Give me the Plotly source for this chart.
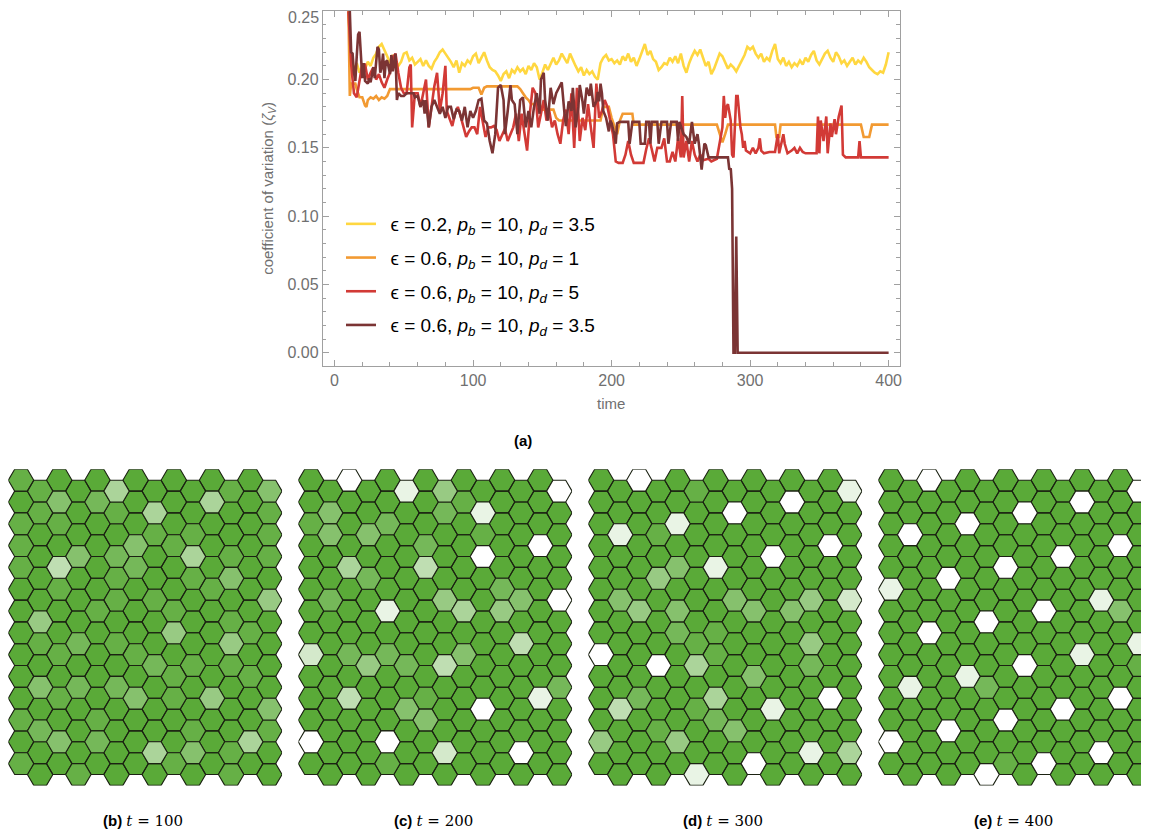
import plotly.graph_objects as go

W, H = 1149, 836
OX, OY = 8, 8  # page body margin compensation

# ---------------- line chart data ----------------
t_yellow = [10,11,12,14,16,18,20,22,24,26,28,30,32,34,36,38,40,42,44,46,48,50,52,54,56,58,60,62,64,66,68,70,72,74,76,78,80,82,84,86,88,90,92,94,96,98,100,102,104,106,108,110,112,114,116,118,120,122,124,126,128,130,132,134,136,138,140,142,144,146,148,150,152,154,156,158,160,162,164,166,168,170,172,174,176,178,180,182,184,186,188,190,192,194,196,198,200,202,204,206,208,210,212,214,216,218,220,222,224,226,228,230,232,234,236,238,240,242,244,246,248,250,252,254,256,258,260,262,264,266,268,270,272,274,276,278,280,282,284,286,288,290,292,294,296,298,300,302,304,306,308,310,312,314,316,318,320,322,324,326,328,330,332,334,336,338,340,342,344,346,348,350,352,354,356,358,360,362,364,366,368,370,372,374,376,378,380,382,384,386,388,390,392,394,396,398,400]
v_yellow = [0.25,0.232,0.215,0.207,0.212,0.205,0.21,0.208,0.213,0.21,0.216,0.219,0.224,0.226,0.222,0.217,0.212,0.218,0.213,0.21,0.213,0.219,0.22,0.214,0.216,0.211,0.213,0.215,0.21,0.214,0.21,0.208,0.213,0.216,0.22,0.222,0.219,0.216,0.213,0.209,0.214,0.205,0.212,0.21,0.214,0.212,0.217,0.219,0.212,0.216,0.22,0.214,0.209,0.207,0.206,0.203,0.199,0.204,0.206,0.201,0.207,0.205,0.209,0.206,0.208,0.204,0.21,0.207,0.212,0.209,0.2,0.205,0.211,0.207,0.212,0.216,0.211,0.214,0.219,0.215,0.212,0.219,0.214,0.21,0.206,0.209,0.203,0.207,0.204,0.206,0.202,0.2,0.212,0.216,0.218,0.214,0.215,0.212,0.214,0.211,0.217,0.214,0.219,0.213,0.216,0.21,0.215,0.22,0.226,0.218,0.221,0.215,0.213,0.207,0.209,0.212,0.211,0.216,0.213,0.217,0.212,0.219,0.21,0.205,0.212,0.217,0.221,0.218,0.222,0.216,0.21,0.213,0.204,0.208,0.213,0.219,0.217,0.212,0.208,0.211,0.209,0.206,0.21,0.213,0.218,0.224,0.222,0.224,0.219,0.216,0.219,0.213,0.216,0.214,0.221,0.226,0.215,0.212,0.216,0.21,0.213,0.209,0.212,0.21,0.214,0.211,0.216,0.213,0.218,0.221,0.214,0.211,0.215,0.219,0.221,0.216,0.213,0.22,0.217,0.212,0.214,0.21,0.213,0.216,0.211,0.214,0.212,0.216,0.213,0.209,0.207,0.205,0.204,0.206,0.205,0.211,0.22]

t_orange = [10,11,12,15,16,18,20,22,23,24,26,28,30,32,34,36,38,40,98,100,104,106,108,110,132,134,136,138,140,142,148,150,158,160,162,192,194,198,200,202,204,206,208,215,216,276,278,280,282,284,318,319,321,322,380,382,386,388,400]
v_orange = [0.25,0.188,0.197,0.197,0.193,0.187,0.187,0.181,0.18,0.185,0.187,0.186,0.188,0.185,0.187,0.186,0.188,0.193,0.193,0.194,0.194,0.189,0.194,0.195,0.195,0.193,0.19,0.187,0.185,0.182,0.182,0.178,0.178,0.172,0.17,0.17,0.18,0.18,0.172,0.166,0.16,0.17,0.175,0.175,0.167,0.167,0.16,0.154,0.16,0.167,0.167,0.158,0.158,0.167,0.167,0.158,0.158,0.167,0.167]

t_red = [10,11,12,13,14,16,18,20,22,24,26,28,30,32,34,36,38,40,42,44,46,48,50,52,54,55,56,58,60,62,64,66,68,70,72,74,76,78,80,81,83,85,87,89,91,93,95,97,99,101,103,105,107,109,111,113,115,117,119,121,123,125,127,129,131,133,135,137,139,141,143,145,147,149,151,153,155,157,159,161,163,165,167,169,171,173,175,177,179,181,183,185,187,189,191,193,195,197,199,201,203,205,208,210,212,214,216,223,225,227,229,231,233,236,238,240,242,244,246,248,250,251,252,254,256,258,260,262,264,266,270,272,276,278,280,281,282,283,284,286,287,288,289,290,291,293,294,295,296,297,300,302,304,306,307,308,310,314,318,320,321,322,324,325,327,330,332,334,336,338,340,346,348,349,350,351,353,355,356,358,359,361,362,364,366,367,369,378,379,380,400]
v_red = [0.25,0.225,0.211,0.2,0.19,0.187,0.2,0.211,0.211,0.2,0.205,0.209,0.2,0.204,0.198,0.194,0.2,0.205,0.216,0.219,0.205,0.194,0.19,0.19,0.209,0.211,0.165,0.19,0.19,0.18,0.19,0.2,0.165,0.18,0.195,0.205,0.177,0.19,0.21,0.177,0.172,0.166,0.175,0.18,0.173,0.165,0.158,0.162,0.165,0.165,0.16,0.18,0.17,0.158,0.165,0.165,0.166,0.163,0.155,0.16,0.164,0.155,0.16,0.165,0.175,0.155,0.175,0.163,0.148,0.175,0.194,0.19,0.165,0.175,0.185,0.17,0.177,0.165,0.17,0.16,0.153,0.17,0.178,0.16,0.19,0.15,0.194,0.155,0.172,0.163,0.182,0.165,0.15,0.197,0.172,0.177,0.185,0.18,0.17,0.16,0.14,0.139,0.139,0.145,0.155,0.145,0.139,0.139,0.149,0.157,0.149,0.14,0.15,0.15,0.157,0.14,0.14,0.147,0.14,0.157,0.143,0.188,0.143,0.155,0.14,0.155,0.145,0.14,0.145,0.141,0.142,0.14,0.142,0.153,0.165,0.188,0.172,0.18,0.182,0.17,0.145,0.143,0.165,0.188,0.188,0.165,0.16,0.15,0.155,0.148,0.146,0.15,0.146,0.15,0.157,0.148,0.146,0.147,0.147,0.16,0.146,0.15,0.16,0.153,0.146,0.148,0.15,0.146,0.15,0.147,0.146,0.146,0.146,0.173,0.146,0.17,0.155,0.173,0.146,0.168,0.158,0.171,0.16,0.173,0.181,0.145,0.143,0.143,0.155,0.143,0.143]

t_maroon = [10,11,12,13,14,15,16,17,18,19,20,21,22,24,25,26,28,29,31,32,33,34,35,36,37,38,40,41,42,44,45,46,48,50,52,55,57,58,60,62,64,65,66,68,70,72,74,76,78,80,82,84,86,88,90,92,94,96,98,100,102,104,106,108,110,112,114,116,118,120,122,123,125,127,128,130,132,134,136,138,140,142,144,146,148,149,151,152,154,156,158,160,162,164,166,167,169,171,172,174,176,177,179,180,182,184,185,187,189,190,191,192,193,194,196,198,199,200,202,203,204,206,212,213,215,220,221,224,225,227,228,229,233,234,236,240,241,243,247,248,249,252,254,256,258,260,262,263,265,267,268,270,284,285,286,287,288,289,290,291,400]
v_maroon = [0.26,0.25,0.22,0.219,0.205,0.199,0.217,0.233,0.235,0.217,0.201,0.212,0.199,0.197,0.201,0.198,0.209,0.201,0.224,0.222,0.205,0.209,0.219,0.201,0.213,0.214,0.204,0.218,0.206,0.219,0.185,0.19,0.188,0.188,0.19,0.19,0.19,0.187,0.188,0.18,0.185,0.175,0.185,0.165,0.18,0.185,0.18,0.175,0.18,0.172,0.18,0.18,0.171,0.178,0.177,0.17,0.18,0.165,0.177,0.172,0.177,0.185,0.186,0.17,0.168,0.155,0.146,0.16,0.194,0.196,0.185,0.16,0.177,0.196,0.185,0.182,0.16,0.185,0.187,0.165,0.177,0.165,0.18,0.19,0.175,0.2,0.205,0.185,0.17,0.194,0.182,0.19,0.194,0.198,0.175,0.166,0.184,0.177,0.194,0.165,0.18,0.196,0.184,0.175,0.194,0.188,0.197,0.18,0.184,0.191,0.184,0.197,0.19,0.177,0.172,0.162,0.17,0.168,0.16,0.153,0.168,0.169,0.169,0.153,0.169,0.169,0.153,0.153,0.169,0.169,0.153,0.169,0.169,0.153,0.169,0.169,0.153,0.169,0.169,0.155,0.169,0.16,0.158,0.153,0.169,0.153,0.16,0.153,0.134,0.153,0.152,0.143,0.143,0.134,0.135,0.12,0.0,0.0,0.085,0.0,0.0]

series_names = [
    "\u2002ϵ = 0.2, <i>p</i><sub><i>b</i></sub> = 10, <i>p</i><sub><i>d</i></sub> = 3.5",
    "\u2002ϵ = 0.6, <i>p</i><sub><i>b</i></sub> = 10, <i>p</i><sub><i>d</i></sub> = 1",
    "\u2002ϵ = 0.6, <i>p</i><sub><i>b</i></sub> = 10, <i>p</i><sub><i>d</i></sub> = 5",
    "\u2002ϵ = 0.6, <i>p</i><sub><i>b</i></sub> = 10, <i>p</i><sub><i>d</i></sub> = 3.5",
]
series_colors = ["#FFD740", "#F29A32", "#D23A36", "#7B3434"]

x_ticks = [0, 100, 200, 300, 400]
y_ticks = [0.00, 0.05, 0.10, 0.15, 0.20, 0.25]

# ---------------- hexagon grid data (level 0 = full green, 9 = white) ----------------
grid_b = [
    "11000500000103",
    "01302105005001",
    "10100001010001",
    "10030230150101",
    "10600120010300",
    "00100101001004",
    "04001000100100",
    "01020100400410",
    "00100012010100",
    "03020200100010",
    "00100030104003",
    "12001000010001",
    "00302005030150",
    "10010000100100",
]
grid_c = [
    "00900804000009",
    "03000002180000",
    "13032000010000",
    "00000020090090",
    "00520060000000",
    "02000004002309",
    "00008000504000",
    "00000000000600",
    "70242206300000",
    "00000000000002",
    "00600310090080",
    "00000030000000",
    "90009007000900",
    "00001000000000",
]
grid_d = [
    "00900100000008",
    "00000009009000",
    "08018000000000",
    "00000000090090",
    "00043080000000",
    "03000003000407",
    "00403000303000",
    "00002110000400",
    "90090510000200",
    "00000000300000",
    "06200150080090",
    "00010023000000",
    "40004000000805",
    "00000800900000",
]
grid_e = [
    "00900000000009",
    "00000009009000",
    "09009000000000",
    "00000000090090",
    "00090090000000",
    "80000000000800",
    "00000900900030",
    "00900000000008",
    "00000009008001",
    "08008200000000",
    "00000000090090",
    "00090090000000",
    "90000000000900",
    "00000910900000",
]
grids = [grid_b, grid_c, grid_d, grid_e]
captions = ["(b)", "(c)", "(d)", "(e)"]
times = ["100", "200", "300", "400"]

# ---------------- figure ----------------
fig = go.Figure()

for name, t, v, c, i in zip(series_names, [t_yellow, t_orange, t_red, t_maroon],
                            [v_yellow, v_orange, v_red, v_maroon], series_colors, range(4)):
    fig.add_trace(go.Scatter(x=t, y=v, mode="lines", name=name, legendgroup=f"g{i}",
                             line=dict(color=c, width=2.6), xaxis="x", yaxis="y",
                             hoverinfo="skip"))


def px(x):
    return (x - OX) / W


def py(y):
    return 1 - (y - OY) / H


# main plot area (screen pixels)
PL, PR, PT, PB = 322.8, 899.7, 11.0, 365.7
axis_gray = "#a0a0a0"
label_gray = "#707070"
font_main = "Liberation Sans"

# the top tick label is drawn as an annotation nudged down so it stays inside the page
y_ticktext = [f"{v:.2f}" for v in y_ticks]
y_ticktext[-1] = ""

layout = dict(
    width=W, height=H, margin=dict(l=0, r=0, t=0, b=0, autoexpand=False),
    paper_bgcolor="white", plot_bgcolor="white",
    showlegend=True,
    legend=dict(x=px(341), y=py(205), xanchor="left", yanchor="top",
                font=dict(family=font_main, size=19, color="black"),
                bgcolor="rgba(0,0,0,0)", tracegroupgap=6, itemwidth=30),
    xaxis=dict(domain=[px(PL), px(PR)], range=[-8.5, 408], showgrid=False, zeroline=False,
               showline=True, linecolor=axis_gray, linewidth=1, mirror="allticks",
               ticks="inside", ticklen=6, tickcolor=axis_gray, tickvals=x_ticks,
               minor=dict(ticks="inside", ticklen=3.5, dtick=20, tick0=0, tickcolor=axis_gray, showgrid=False),
               tickfont=dict(family=font_main, size=16, color=label_gray),
               title=dict(text="time", font=dict(family=font_main, size=15, color=label_gray), standoff=10),
               anchor="y", fixedrange=True, automargin=False),
    yaxis=dict(domain=[py(PB), py(PT)], range=[-0.0095, 0.2502], showgrid=False, zeroline=False,
               showline=True, linecolor=axis_gray, linewidth=1, mirror="allticks",
               ticks="inside", ticklen=6, tickcolor=axis_gray, tickvals=y_ticks,
               ticktext=y_ticktext,
               minor=dict(ticks="inside", ticklen=3.5, dtick=0.01, tick0=0, tickcolor=axis_gray, showgrid=False),
               tickfont=dict(family=font_main, size=16, color=label_gray),
               title=dict(text="coefficient of variation (<i>ζ</i><sub><i>V</i></sub>)",
                          font=dict(family=font_main, size=15, color=label_gray), standoff=10),
               anchor="x", fixedrange=True, automargin=False),
)

annotations = [
    dict(text="<b>(a)</b>", x=px(523), y=py(440), xref="paper", yref="paper",
         xanchor="center", yanchor="middle",
         showarrow=False, font=dict(family=font_main, size=15, color="black")),
    dict(text=f"{y_ticks[-1]:.2f}", x=px(PL), y=y_ticks[-1], xref="paper", yref="y",
         xanchor="right", yanchor="middle", xshift=-3, yshift=-6, showarrow=False,
         borderpad=0, font=dict(family=font_main, size=16, color=label_gray)),
]

# hex panels (screen pixels)
panel_left = [8.3, 298.3, 588.3, 878.3]
panel_top = 469.3
col_dx = 19.1
row_dy = 21.8
ncols, nrows = 14, 14
base = (90, 170, 56)
edge = "#1b2212"
hex_off = [(-2 / 3, 0), (-1 / 3, -0.5), (1 / 3, -0.5), (2 / 3, 0), (1 / 3, 0.5), (-1 / 3, 0.5), (-2 / 3, 0)]
caption_cx = [143, 433, 723, 1013]


def level_color(lv):
    f = (lv / 9.0) ** 1.2
    r = round(base[0] + (255 - base[0]) * f)
    g = round(base[1] + (255 - base[1]) * f)
    b = round(base[2] + (255 - base[2]) * f)
    return f"rgb({r},{g},{b})"


for p, grid in enumerate(grids):
    ax = p + 2
    xname, yname = f"x{ax}", f"y{ax}"
    levels = {}
    for r, rowstr in enumerate(grid):
        for c, ch in enumerate(rowstr):
            lv = int(ch)
            cx = c
            cy = r + 0.5 * (c % 2)
            xs, ys = levels.setdefault(lv, ([], []))
            for dx, dy in hex_off:
                xs.append(cx + dx)
                ys.append(cy + dy)
            xs.append(None)
            ys.append(None)
    for lv in sorted(levels):
        xs, ys = levels[lv]
        fig.add_trace(go.Scatter(x=xs, y=ys, mode="lines", fill="toself",
                                 fillcolor=level_color(lv), line=dict(color=edge, width=1.1),
                                 xaxis=xname, yaxis=yname, showlegend=False, hoverinfo="skip"))
    left = panel_left[p]
    full_w = (ncols - 1 + 4 / 3) * col_dx
    right = min(left + full_w, W + OX)
    xr = [-2 / 3, -2 / 3 + (right - left) / col_dx]
    full_h = (nrows + 0.5) * row_dy
    layout[f"xaxis{ax}"] = dict(domain=[px(left), px(right)], range=xr, visible=False,
                                 fixedrange=True, anchor=yname)
    layout[f"yaxis{ax}"] = dict(domain=[py(panel_top + full_h), py(panel_top)],
                                 range=[nrows, -0.5], visible=False, fixedrange=True, anchor=xname)
    annotations.append(dict(
        text=f"<b>{captions[p]}</b> <span style='font-family:DejaVu Serif'><i>t</i> = {times[p]}</span>",
        x=px(caption_cx[p]), y=py(821), xref="paper", yref="paper", showarrow=False,
        xanchor="center", yanchor="middle",
        font=dict(family=font_main, size=15, color="black")))

layout["annotations"] = annotations
fig.update_layout(**layout)
fig.write_html("out.html")
